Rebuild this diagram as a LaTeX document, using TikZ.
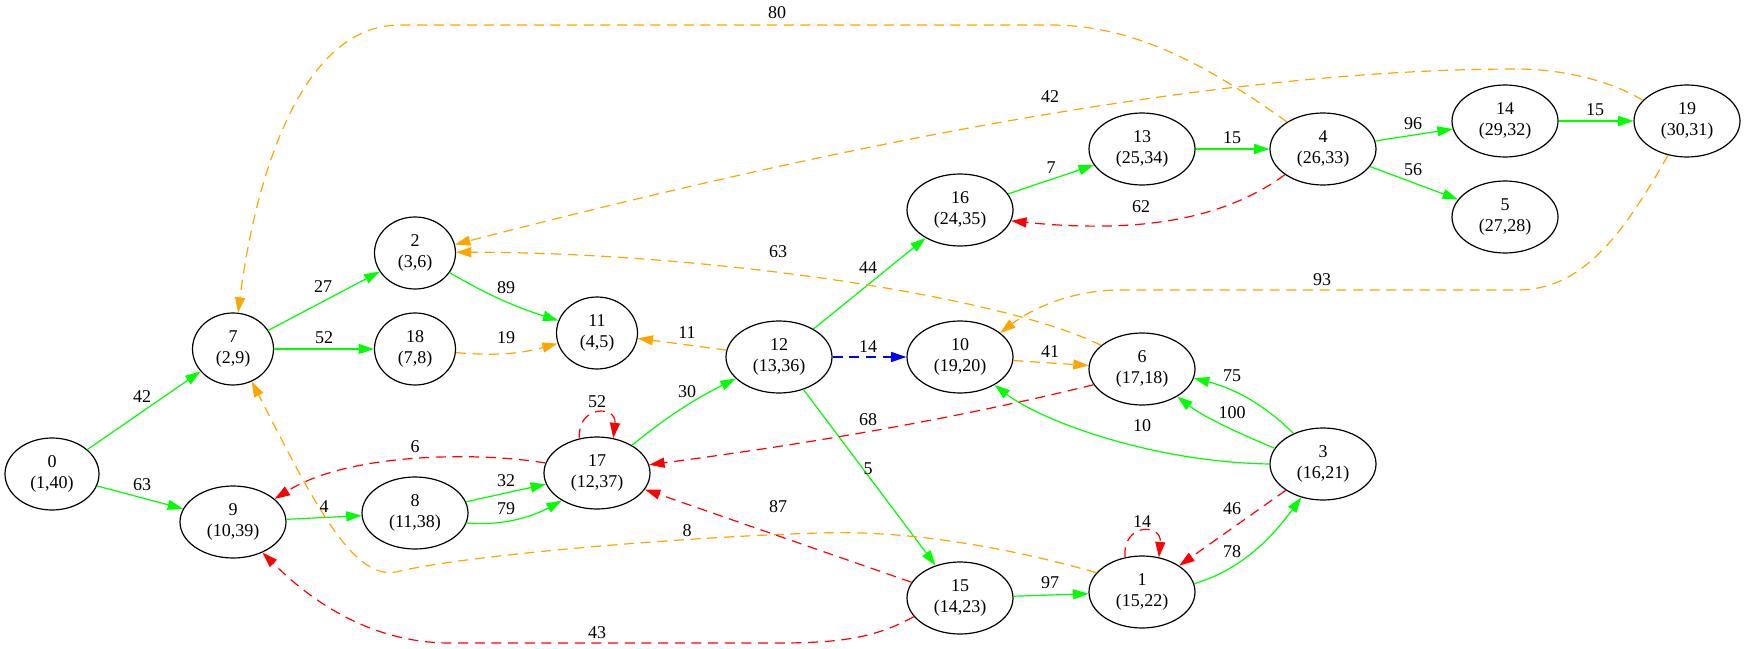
\documentclass[tikz,border=0pt]{standalone}
\usepackage{fontspec}
\setmainfont{Liberation Serif}
\usetikzlibrary{arrows.meta,shapes.geometric}
\definecolor{cTree}{HTML}{00FF00}
\definecolor{cCross}{HTML}{FFA500}
\definecolor{cBack}{HTML}{FF0000}
\definecolor{cFwd}{HTML}{0000FF}

\begin{document}
\begin{tikzpicture}[x=0.75pt,y=-0.75pt,
  vtx/.style={ellipse, draw, line width=0.9pt, inner sep=0pt,
    minimum width=79.5pt, minimum height=54pt, align=center,
    font=\fontsize{13.5}{15.5}\selectfont},
  narrow/.style={minimum width=60.75pt},
  lbl/.style={inner sep=0pt, font=\fontsize{13.5}{15.5}\selectfont},
  lnk/.style={line width=0.9pt, -{Triangle[length=11.5pt,width=7.5pt]}},
  dashlnk/.style={lnk, dash pattern=on 7.5pt off 5pt},
  treelnk/.style={lnk, draw=cTree},
  crosslnk/.style={dashlnk, draw=cCross},
  backlnk/.style={dashlnk, draw=cBack},
  fwdlnk/.style={dashlnk, draw=cFwd},
]
\useasboundingbox (0,0) rectangle (1745,649);

% vertices: number and (discovery,finish) times
\node[vtx, minimum width=70.5pt] (n0) at (52,474) {0\\(1,40)};
\node[vtx,narrow] (n7) at (233,349) {7\\(2,9)};
\node[vtx] (n9) at (233,522) {9\\(10,39)};
\node[vtx,narrow] (n2) at (415,253) {2\\(3,6)};
\node[vtx,narrow] (n18) at (415,349) {18\\(7,8)};
\node[vtx] (n8) at (415,513) {8\\(11,38)};
\node[vtx,narrow] (n11) at (597,333) {11\\(4,5)};
\node[vtx] (n17) at (597,473) {17\\(12,37)};
\node[vtx] (n12) at (779,357) {12\\(13,36)};
\node[vtx] (n16) at (960,210) {16\\(24,35)};
\node[vtx] (n10) at (960,357) {10\\(19,20)};
\node[vtx] (n15) at (960,598) {15\\(14,23)};
\node[vtx] (n13) at (1142,149) {13\\(25,34)};
\node[vtx] (n6) at (1142,369) {6\\(17,18)};
\node[vtx] (n1) at (1142,592) {1\\(15,22)};
\node[vtx] (n4) at (1323,149) {4\\(26,33)};
\node[vtx] (n3) at (1323,464) {3\\(16,21)};
\node[vtx] (n14) at (1505,121) {14\\(29,32)};
\node[vtx] (n5) at (1505,217) {5\\(27,28)};
\node[vtx] (n19) at (1687,121) {19\\(30,31)};

% tree edges
\draw[treelnk] (n0) -- (n7);
\draw[treelnk] (n0) -- (n9);
\draw[treelnk] (n7) -- (n2);
\draw[treelnk] (n7) -- (n18);
\draw[treelnk] (n2) to[bend right=6] (n11);
\draw[treelnk] (n9) -- (n8);
\draw[treelnk] (n8) -- (n17);
\draw[treelnk] (n8.-11) .. controls (500,526) and (530,518) .. (n17.-142);
\draw[treelnk] (n17) to[bend left=6] (n12);
\draw[treelnk] (n12) -- (n16);
\draw[treelnk] (n12) -- (n15);
\draw[treelnk] (n16) -- (n13);
\draw[treelnk] (n13) -- (n4);
\draw[treelnk] (n4) -- (n14);
\draw[treelnk] (n4) -- (n5);
\draw[treelnk] (n14) -- (n19);
\draw[treelnk] (n15) -- (n1);
\draw[treelnk] (n1.9) .. controls (1240,570) and (1270,540) .. (n3.237);
\draw[treelnk] (n3.134) .. controls (1270,410) and (1240,390) .. (n6.-10);
\draw[treelnk] (n3.162) .. controls (1245,436) and (1205,418) .. (n6.-38);
\draw[treelnk] (n3.180) .. controls (1150,462) and (1040,420) .. (n10.-39);

% forward edge
\draw[fwdlnk] (n12) -- (n10);

% cross edges
\draw[crosslnk] (n18) to[bend right=10] (n11);
\draw[crosslnk] (n12) -- (n11);
\draw[crosslnk] (n10) -- (n6);
\draw[crosslnk] (n4.143) .. controls (1200,60) and (1130,25) .. (1050,25)
  -- (400,25) .. controls (300,25) and (255,180) .. (n7.82);
\draw[crosslnk] (n19.155) .. controls (1610,80) and (1560,69) .. (1517,69)
  .. controls (1200,69) and (800,155) .. (n2.12);
\draw[crosslnk] (n6.150) .. controls (1000,295) and (700,252) .. (n2.1);
\draw[crosslnk] (n19.241) .. controls (1620,240) and (1580,290) .. (1517,290)
  -- (1120,290) .. controls (1070,290) and (1030,310) .. (n10.31);
\draw[crosslnk] (n1.157) .. controls (1000,545) and (900,530) .. (820,533)
  .. controls (680,537) and (470,555) .. (400,571)
  .. controls (355,585) and (315,505) .. (n7.-60);

% back edges
\draw[backlnk] (n17.117) .. controls (577,405) and (617,405) .. (n17.65);
\draw[backlnk] (n1.116) .. controls (1122,523) and (1162,523) .. (n1.64);
\draw[backlnk] (n17.169) .. controls (480,452) and (350,452) .. (n9.29);
\draw[backlnk] (n6.198) .. controls (950,420) and (800,445) .. (n17.9);
\draw[backlnk] (n15.162) -- (n17.-19);
\draw[backlnk] (n15.202) .. controls (880,635) and (850,643) .. (780,643)
  -- (450,643) .. controls (370,643) and (310,600) .. (n9.-46);
\draw[backlnk] (n4.214) .. controls (1230,215) and (1150,235) .. (n16.-12);
\draw[backlnk] (n3) -- (n1);

% edge weights
\node[lbl] (w0-7) at (142,397) {42};
\node[lbl] (w0-9) at (142,485) {63};
\node[lbl] (w7-2) at (323,287) {27};
\node[lbl] (w7-18) at (324,338) {52};
\node[lbl] (w2-11) at (506,288) {89};
\node[lbl] (w18-11) at (506,338) {19};
\node[lbl] (w12-11) at (687,333) {11};
\node[lbl] (w9-8) at (324,507) {4};
\node[lbl] (w8-17a) at (506,481) {32};
\node[lbl] (w8-17b) at (506,509) {79};
\node[lbl] (w17-12) at (687,392) {30};
\node[lbl] (w17-17) at (597,402) {52};
\node[lbl] (w12-16) at (868,268) {44};
\node[lbl] (w12-10) at (868,347) {14};
\node[lbl] (w12-15) at (868,469) {5};
\node[lbl] (w16-13) at (1051,168) {7};
\node[lbl] (w13-4) at (1232,138) {15};
\node[lbl] (w4-16) at (1141,207) {62};
\node[lbl] (w4-14) at (1413,124) {96};
\node[lbl] (w4-5) at (1413,170) {56};
\node[lbl] (w14-19) at (1595,110) {15};
\node[lbl] (w19-2) at (1050,97) {42};
\node[lbl] (w4-7) at (777,13) {80};
\node[lbl] (w6-2) at (778,252) {63};
\node[lbl] (w19-10) at (1322,280) {93};
\node[lbl] (w10-6) at (1050,352) {41};
\node[lbl] (w1-7) at (687,531) {8};
\node[lbl] (w17-9) at (415,447) {6};
\node[lbl] (w6-17) at (868,420) {68};
\node[lbl] (w15-17) at (778,507) {87};
\node[lbl] (w15-9) at (597,633) {43};
\node[lbl] (w15-1) at (1050,583) {97};
\node[lbl] (w1-1) at (1142,522) {14};
\node[lbl] (w3-1) at (1232,509) {46};
\node[lbl] (w1-3) at (1232,552) {78};
\node[lbl] (w3-6a) at (1232,376) {75};
\node[lbl] (w3-6b) at (1232,413) {100};
\node[lbl] (w3-10) at (1142,426) {10};
\end{tikzpicture}
\end{document}
